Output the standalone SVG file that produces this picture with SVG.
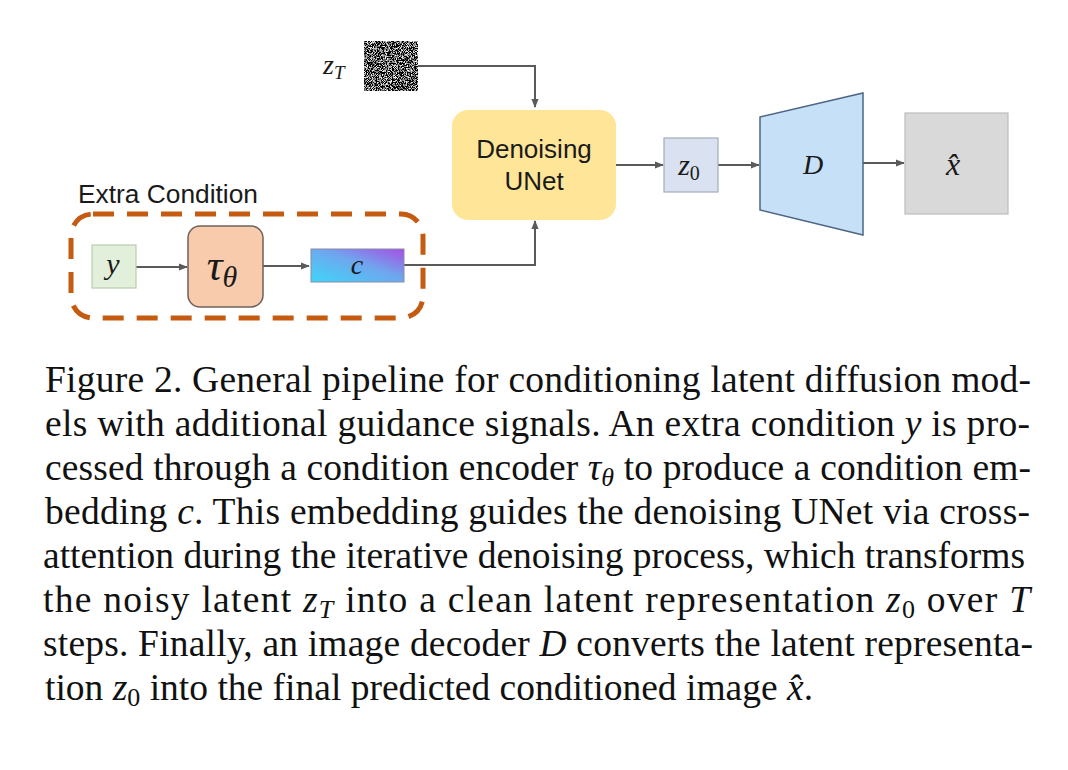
<svg xmlns="http://www.w3.org/2000/svg" width="1068" height="770" viewBox="0 0 1068 770">
<defs>
<style>
.sans{font-family:"Liberation Sans",Arial,sans-serif;fill:#1a1a1a}
.math{font-family:"Liberation Serif","Times New Roman",serif;font-style:italic;fill:#1a1a1a}
.cap{font-family:"Liberation Serif","Times New Roman",serif;font-size:37.5px;fill:#111}
.it{font-style:italic}
.conn{fill:none;stroke:#5a5a5a;stroke-width:2}
</style>
<marker id="ah" viewBox="0 0 10 10" refX="9" refY="5" markerWidth="9" markerHeight="9" markerUnits="userSpaceOnUse" orient="auto">
<path d="M0,1 L10,5 L0,9 Z" fill="#5a5a5a"/>
</marker>
<linearGradient id="gc" x1="0" y1="1" x2="1" y2="0">
<stop offset="0" stop-color="#3ED6F8"/>
<stop offset="0.55" stop-color="#6FA6EE"/>
<stop offset="1" stop-color="#A64FE4"/>
</linearGradient>
<filter id="noise" x="0" y="0" width="100%" height="100%">
<feTurbulence type="fractalNoise" baseFrequency="1.2" numOctaves="2" seed="7" result="t"/>
<feColorMatrix in="t" type="matrix" values="4.2 0 0 0 -2.0  4.2 0 0 0 -2.0  4.2 0 0 0 -2.0  0 0 0 0 1" result="g"/>
<feComposite in="g" in2="SourceGraphic" operator="in"/>
</filter>
</defs>
<rect width="1068" height="770" fill="#fff"/>

<g id="connectors">
<path class="conn" d="M418,66 H535 V107" marker-end="url(#ah)"/>
<path class="conn" d="M404,265 H535 V221" marker-end="url(#ah)"/>
<path class="conn" d="M136,267 H187" marker-end="url(#ah)"/>
<path class="conn" d="M263,266 H309" marker-end="url(#ah)"/>
<path class="conn" d="M616,165 H663" marker-end="url(#ah)"/>
<path class="conn" d="M718,165 H759" marker-end="url(#ah)"/>
<path class="conn" d="M863,163 H904" marker-end="url(#ah)"/>
</g>

<g id="extra-condition">
<rect x="71" y="214" width="352" height="104" rx="22" fill="none" stroke="#C55A11" stroke-width="5" stroke-dasharray="21 13"/>
<text class="sans" x="78" y="203" font-size="25.5" textLength="180" lengthAdjust="spacingAndGlyphs">Extra Condition</text>
</g>

<g id="zT">
<text class="math" x="323" y="74" font-size="28">z<tspan font-size="19" dy="5">T</tspan></text>
<rect x="364" y="41" width="54" height="50" fill="#333" filter="url(#noise)"/>
</g>

<g id="unet">
<rect x="452" y="110" width="164" height="110" rx="16" fill="#FFE597"/>
<text class="sans" x="534" y="158" font-size="26" text-anchor="middle">Denoising</text>
<text class="sans" x="534" y="190" font-size="26" text-anchor="middle">UNet</text>
</g>

<g id="y">
<rect x="92" y="245" width="44" height="43" fill="#E2EFDA" stroke="#B9CCAE" stroke-width="1.2"/>
<text class="math" x="113" y="274" font-size="30" text-anchor="middle">y</text>
</g>

<g id="tau">
<rect x="188" y="226" width="75" height="81" rx="12" fill="#F8CBAD" stroke="#6E625A" stroke-width="1.5"/>
<text class="math" x="222" y="280" font-size="44" text-anchor="middle">τ<tspan font-size="30" dy="7">θ</tspan></text>
</g>

<g id="c">
<rect x="311" y="249" width="93" height="33" fill="url(#gc)" stroke="#8a8aa8" stroke-width="1"/>
<text class="math" x="357" y="274" font-size="28" text-anchor="middle">c</text>
</g>

<g id="z0">
<rect x="664" y="138" width="54" height="54" fill="#DAE2F2" stroke="#A4ABBA" stroke-width="1.2"/>
<text class="math" x="689" y="175" font-size="30" text-anchor="middle">z<tspan font-size="20" font-style="normal" dy="5">0</tspan></text>
</g>

<g id="decoder">
<path d="M760,117 L863,93 L863,235 L760,210 Z" fill="#C6E0F8" stroke="#4E6583" stroke-width="1.5"/>
<text class="math" x="813" y="174" font-size="28" text-anchor="middle">D</text>
</g>

<g id="xhat">
<rect x="905" y="113" width="103" height="101" fill="#D9D9D9" stroke="#BDBDBD" stroke-width="1.2"/>
<text class="math" x="953" y="175" font-size="32" text-anchor="middle">x̂</text>
</g>

<g id="caption">
<text class="cap" x="45" y="392" textLength="986" lengthAdjust="spacing">Figure 2. General pipeline for conditioning latent diffusion mod-</text>
<text class="cap" x="45" y="436" textLength="985" lengthAdjust="spacing">els with additional guidance signals. An extra condition <tspan class="it">y</tspan> is pro-</text>
<text class="cap" x="45" y="480" textLength="986" lengthAdjust="spacing">cessed through a condition encoder <tspan class="it">τ</tspan><tspan class="it" font-size="26" dy="6">θ</tspan><tspan dy="-6"> to produce a condition em-</tspan></text>
<text class="cap" x="45" y="524" textLength="985" lengthAdjust="spacing">bedding <tspan class="it">c</tspan>. This embedding guides the denoising UNet via cross-</text>
<text class="cap" x="43" y="568" textLength="982" lengthAdjust="spacing">attention during the iterative denoising process, which transforms</text>
<text class="cap" x="43" y="612" textLength="987" lengthAdjust="spacing">the noisy latent <tspan class="it">z</tspan><tspan class="it" font-size="26" dy="6">T</tspan><tspan dy="-6"> into a clean latent representation </tspan><tspan class="it">z</tspan><tspan font-size="26" dy="6">0</tspan><tspan dy="-6"> over </tspan><tspan class="it">T</tspan></text>
<text class="cap" x="43" y="656" textLength="990" lengthAdjust="spacing">steps. Finally, an image decoder <tspan class="it">D</tspan> converts the latent representa-</text>
<text class="cap" x="45" y="700">tion <tspan class="it">z</tspan><tspan font-size="26" dy="6">0</tspan><tspan dy="-6"> into the final predicted conditioned image </tspan><tspan class="it">x̂</tspan>.</text>
</g>
</svg>
